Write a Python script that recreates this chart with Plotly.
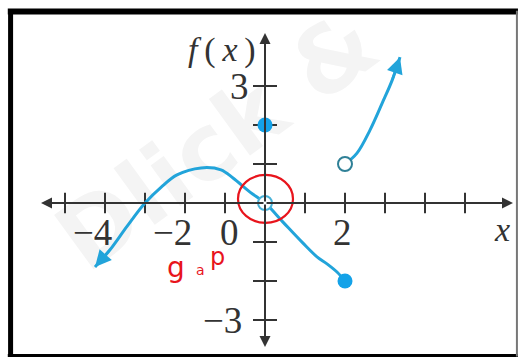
import plotly.graph_objects as go

# Left branch of f (x < 2)
left_x = [-4.25, -3.875, -3.45, -3.0, -2.6, -2.2, -1.6, -1.1, -0.8, -0.375, 0.0, 0.45, 0.95, 1.3, 1.55, 1.8, 2.0]
left_y = [-1.64, -1.2, -0.6, 0.0, 0.4, 0.72, 0.9, 0.85, 0.64, 0.28, 0.0, -0.49, -1.03, -1.38, -1.56, -1.77, -2.0]

# Right branch of f (x > 2)
right_x = [2.0, 2.3, 2.625, 2.93, 3.18, 3.375]
right_y = [1.0, 1.28, 1.87, 2.56, 3.15, 3.74]

# Included (closed) and excluded (open) points
closed_x = [0, 2]
closed_y = [2, -2]
open_x = [0, 2]
open_y = [0, 1]

# Axis ticks and labels
x_ticks = [-5, -4, -3, -2, -1, 1, 2, 3, 4, 5]
y_ticks = [-3, -2, -1, 1, 2, 3]
x_label_vals = [-4, -2, 2]
x_label_text = ["\u22124", "\u22122", "2"]
y_label_vals = [3, -3]
y_label_text = ["3", "\u22123"]

x_axis_ends = (-5.6, 6.2)
y_axis_ends = (-3.69, 4.36)

BLUE = "#22a4da"
DOT = "#14a2e8"
AXIS = "#333333"
RED = "#e8141c"
SERIF = "Liberation Serif, Times New Roman, serif"

fig = go.Figure()

# faint background watermark, kept beneath the plotted marks
fig.add_shape(type="rect", xref="paper", yref="paper", x0=0.0, x1=0.82, y0=0.25, y1=1.0,
              layer="below", line=dict(width=0), fillcolor="rgba(0,0,0,0)",
              label=dict(text="Dlick &", textangle=-36, textposition="middle center",
                         font=dict(family="DejaVu Sans", size=92, color="#f4f4f4", weight="bold")))

# tick marks as short segments crossing the axes
tx, ty = [], []
for t in x_ticks:
    tx += [t, t, None]
    ty += [-0.26, 0.26, None]
for t in y_ticks:
    tx += [-0.3, 0.3, None]
    ty += [t, t, None]
fig.add_trace(go.Scatter(x=tx, y=ty, mode="lines", line=dict(color=AXIS, width=2),
                         hoverinfo="skip", showlegend=False))

# axes with arrowheads
for hx, hy in [(x_axis_ends[0], 0), (x_axis_ends[1], 0), (0, y_axis_ends[0]), (0, y_axis_ends[1])]:
    fig.add_annotation(x=hx, y=hy, ax=0, ay=0, xref="x", yref="y", axref="x", ayref="y",
                       text="", showarrow=True, arrowhead=2, arrowsize=1.1, arrowwidth=2,
                       arrowcolor=AXIS, standoff=0, startstandoff=0)

# the two branches of the function
fig.add_trace(go.Scatter(x=left_x, y=left_y, mode="lines", line=dict(color=BLUE, width=3, shape="spline"),
                         hoverinfo="skip", showlegend=False))
fig.add_trace(go.Scatter(x=right_x, y=right_y, mode="lines", line=dict(color=BLUE, width=3, shape="spline"),
                         hoverinfo="skip", showlegend=False))

# arrowheads at the open ends of the branches
for (hx, hy, px, py) in [(left_x[0], left_y[0], left_x[1], left_y[1]),
                         (right_x[-1], right_y[-1], right_x[-2], right_y[-2])]:
    fig.add_annotation(x=hx, y=hy, ax=px, ay=py, xref="x", yref="y", axref="x", ayref="y",
                       text="", showarrow=True, arrowhead=2, arrowsize=1.3, arrowwidth=2.5,
                       arrowcolor=BLUE, standoff=0)

# open and closed points
fig.add_trace(go.Scatter(x=open_x, y=open_y, mode="markers",
                         marker=dict(size=14, color="white",
                                     line=dict(color=["#4ab3d8", "#2f8097"], width=2)),
                         hoverinfo="skip", showlegend=False))
fig.add_trace(go.Scatter(x=closed_x, y=closed_y, mode="markers",
                         marker=dict(size=15, color=DOT, line=dict(width=0)),
                         hoverinfo="skip", showlegend=False))

# tick labels
for v, s in zip(x_label_vals, x_label_text):
    fig.add_annotation(x=v, y=0, xref="x", yref="y", text=s, showarrow=False,
                       xanchor="right", yanchor="middle", xshift=9, yshift=-30,
                       font=dict(family=SERIF, size=37, color=AXIS))
fig.add_annotation(x=0, y=0, xref="x", yref="y", text="0", showarrow=False,
                   xanchor="right", yanchor="middle", xshift=-24, yshift=-30,
                   font=dict(family=SERIF, size=37, color=AXIS))
for v, s in zip(y_label_vals, y_label_text):
    fig.add_annotation(x=0, y=v, xref="x", yref="y", text=s, showarrow=False,
                       xanchor="right", yanchor="middle", xshift=-14 if v > 0 else -21, yshift=-1,
                       font=dict(family=SERIF, size=37, color=AXIS))

# axis titles
fig.add_annotation(x=0, y=y_axis_ends[1], xref="x", yref="y",
                   text="<i>f</i>\u2009(\u2009<i>x</i>\u2009)",
                   showarrow=False, xanchor="right", yanchor="top", xshift=-7, yshift=4,
                   font=dict(family=SERIF, size=34, color=AXIS))
fig.add_annotation(x=x_axis_ends[1], y=0, xref="x", yref="y", text="<i>x</i>",
                   showarrow=False, xanchor="right", yanchor="top", xshift=-1, yshift=-6,
                   font=dict(family=SERIF, size=34, color=AXIS))

# hand-drawn marking of the missing point
fig.add_shape(type="circle", xref="x", yref="y", x0=-0.675, x1=0.7, y0=-0.51, y1=0.72,
              line=dict(color=RED, width=2.2))
for (xp, yp, ch, sz) in [(0.339, 0.205, "g", 28), (0.387, 0.222, "a", 14), (0.419, 0.243, "p", 24)]:
    fig.add_annotation(x=xp, y=yp, xref="paper", yref="paper", text=ch, showarrow=False,
                       font=dict(family="DejaVu Sans", size=sz, color=RED))

# frame
frame = [
    dict(x0=0.0204, x1=0.0204, y0=0.008, y1=0.97, w=5, c="black"),
    dict(x0=0.015, x1=0.998, y0=0.968, y1=0.968, w=6, c="black"),
    dict(x0=0.015, x1=0.998, y0=0.0125, y1=0.0125, w=3, c="black"),
    dict(x0=0.996, x1=0.996, y0=0.01, y1=0.97, w=2, c="#777777"),
]
for f in frame:
    fig.add_shape(type="line", xref="paper", yref="paper", x0=f["x0"], x1=f["x1"],
                  y0=f["y0"], y1=f["y1"], line=dict(color=f["c"], width=f["w"]))

fig.update_layout(
    width=519, height=360,
    margin=dict(l=0, r=0, t=0, b=0),
    paper_bgcolor="white", plot_bgcolor="white",
    xaxis=dict(range=[-6.625, 6.35], visible=False, fixedrange=True),
    yaxis=dict(range=[-4.026, 5.205], visible=False, fixedrange=True),
    showlegend=False,
)

fig.write_html("out.html")
